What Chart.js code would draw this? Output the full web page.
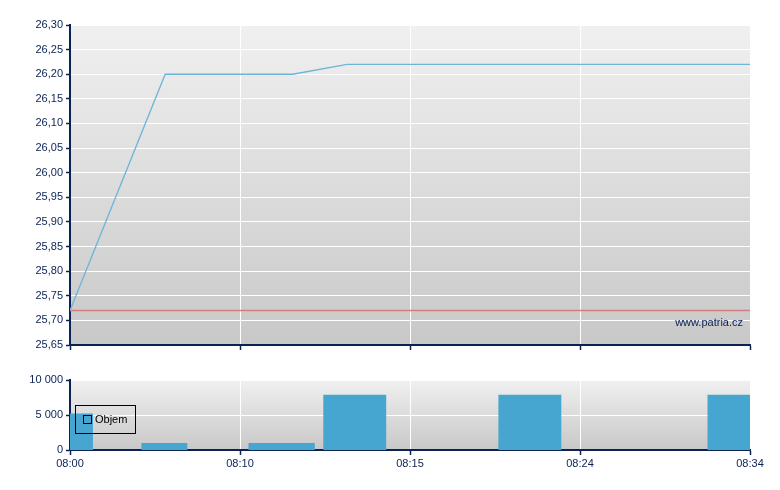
<!DOCTYPE html>
<html>
<head>
<meta charset="utf-8">
<script src="https://cdn.jsdelivr.net/npm/chart.js@4.4.1/dist/chart.umd.min.js"></script>
<style>
  html, body { margin: 0; padding: 0; background: #fff; }
  #wrap { position: relative; width: 780px; height: 490px; }
  .box { position: absolute; left: 0; width: 780px; }
</style>
</head>
<body>
<div id="wrap">
  <div class="box" style="top:0;height:360px"><canvas id="price"></canvas></div>
  <div class="box" style="top:360px;height:130px"><canvas id="volume"></canvas></div>
</div>
<script>
// x axis is a position axis 0..40, labelled with the trade times below
const timeLabels = ["08:00", "08:10", "08:15", "08:24", "08:34"];
const xMax = 40;

const priceX = [0, 5.6, 13.1, 16.3, 40];
const priceY = [25.72, 26.2, 26.2, 26.22, 26.22];
const prevClose = 25.72;

const volStart = [0, 4.2, 10.5, 14.9, 25.2, 37.5];
const volEnd = [1.35, 6.9, 14.4, 18.6, 28.9, 40];
const volume = [5200, 1000, 1000, 7900, 7900, 7900];

const navy = "#0a2254";
const font = { family: "Arial, 'Liberation Sans', sans-serif", size: 11 };

const plotBg = {
  id: "plotBg",
  beforeDraw(chart) {
    const { ctx, chartArea: a } = chart;
    const g = ctx.createLinearGradient(0, a.top, 0, a.bottom);
    g.addColorStop(0, "#f0f0f0");
    g.addColorStop(1, "#c8c8c8");
    ctx.save();
    ctx.fillStyle = g;
    ctx.fillRect(a.left, a.top, a.right - a.left, a.bottom - a.top);
    ctx.restore();
  },
};

const watermark = {
  id: "watermark",
  afterDraw(chart) {
    const { ctx, chartArea: a } = chart;
    ctx.save();
    ctx.font = "11px Arial, 'Liberation Sans', sans-serif";
    ctx.fillStyle = navy;
    ctx.textAlign = "right";
    ctx.textBaseline = "middle";
    ctx.fillText("www.patria.cz", a.right - 7, a.bottom - 22);
    ctx.restore();
  },
};

const boxLegend = {
  id: "boxLegend",
  afterDraw(chart) {
    const { ctx, chartArea: a } = chart;
    const ds = chart.data.datasets[0];
    const x = a.left + 5, y = a.top + 25;
    ctx.save();
    ctx.strokeStyle = "#000";
    ctx.lineWidth = 1;
    ctx.strokeRect(x + 0.5, y + 0.5, 60, 28);
    ctx.fillStyle = ds.backgroundColor;
    ctx.fillRect(x + 8.5, y + 10.5, 8, 8);
    ctx.strokeRect(x + 8.5, y + 10.5, 8, 8);
    ctx.fillStyle = "#000";
    ctx.font = "11px Arial, 'Liberation Sans', sans-serif";
    ctx.textBaseline = "middle";
    ctx.fillText(ds.label, x + 20, y + 15);
    ctx.restore();
  },
};

function xAxis(showLabels, height) {
  return {
    type: "linear",
    min: 0,
    max: xMax,
    afterFit: (s) => { s.height = height; },
    border: { color: navy, width: 2 },
    grid: { color: "#fff", tickColor: navy, tickLength: 5, tickWidth: 1.5 },
    ticks: {
      display: showLabels,
      stepSize: xMax / (timeLabels.length - 1),
      color: navy,
      font: font,
      padding: 2,
      maxRotation: 0,
      callback: (v) => timeLabels[Math.round(v / (xMax / (timeLabels.length - 1)))],
    },
  };
}

function yAxis(min, max, step, fmt) {
  return {
    min: min,
    max: max,
    afterFit: (s) => { s.width = 70; },
    border: { color: navy, width: 2 },
    grid: { color: "#fff", tickColor: navy, tickLength: 4, tickWidth: 1.5 },
    ticks: { stepSize: step, color: navy, font: font, padding: 3, callback: fmt },
  };
}

new Chart(document.getElementById("price"), {
  type: "line",
  data: {
    datasets: [
      {
        label: "Cena",
        data: priceX.map((x, i) => ({ x: x, y: priceY[i] })),
        borderColor: "#6cb5d9",
        borderWidth: 1.3,
        pointRadius: 0,
        tension: 0,
      },
      {
        label: "Předchozí závěr",
        data: [{ x: 0, y: prevClose }, { x: xMax, y: prevClose }],
        borderColor: "#d77c7c",
        borderWidth: 1.5,
        pointRadius: 0,
      },
    ],
  },
  options: {
    responsive: true,
    maintainAspectRatio: false,
    animation: false,
    layout: { padding: { top: 25, right: 30, left: 0, bottom: 0 } },
    plugins: { legend: { display: false }, tooltip: { enabled: false } },
    scales: {
      x: xAxis(false, 15),
      y: yAxis(25.65, 26.3, 0.05, (v) => v.toFixed(2).replace(".", ",")),
    },
  },
  plugins: [plotBg, watermark],
});

// volume bars as a stepped filled line so each bar keeps its own width
const volPoints = [];
volume.forEach((v, i) => {
  volPoints.push({ x: volStart[i], y: v });
  volPoints.push({ x: volEnd[i], y: 0 });
});

new Chart(document.getElementById("volume"), {
  type: "line",
  data: {
    datasets: [
      {
        label: "Objem",
        data: volPoints,
        stepped: "before",
        fill: "origin",
        backgroundColor: "#47a6cf",
        borderColor: "rgba(0,0,0,0)",
        pointRadius: 0,
      },
    ],
  },
  options: {
    responsive: true,
    maintainAspectRatio: false,
    animation: false,
    layout: { padding: { top: 20, right: 30, left: 0, bottom: 0 } },
    plugins: { legend: { display: false }, tooltip: { enabled: false } },
    scales: {
      x: xAxis(true, 40),
      y: yAxis(0, 10000, 5000, (v) => v.toLocaleString("cs-CZ").replace(/\s/g, " ")),
    },
  },
  plugins: [plotBg, boxLegend],
});
</script>
</body>
</html>
